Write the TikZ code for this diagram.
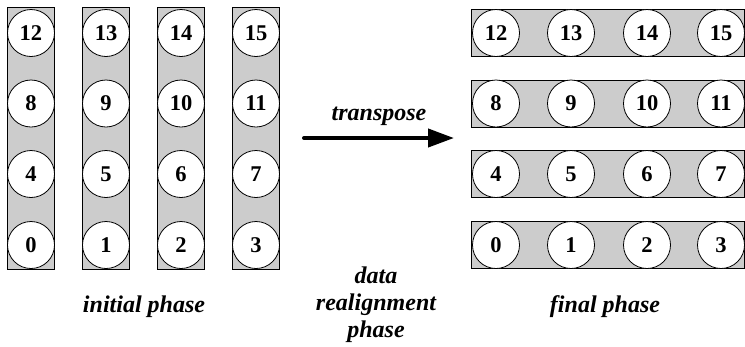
\documentclass[tikz,border=0pt]{standalone}
\usepackage{fontspec}
\setmainfont{Liberation Serif}
\usepackage{tikz}
\usetikzlibrary{arrows.meta}

\tikzset{
  lane/.style={draw, fill=gray!40, line width=0.9pt},
  elem/.style={circle, draw, fill=white, line width=0.8pt, minimum size=47pt,
    inner sep=0pt, font=\fontsize{22.5}{24}\selectfont\bfseries},
  caption/.style={font=\fontsize{24}{27}\selectfont\bfseries\itshape,
    align=center, inner sep=0pt}
}

\begin{document}
\begin{tikzpicture}[x=1pt, y=-1pt]
    \useasboundingbox (0,0) rectangle (745,346);

    % initial phase: one column per lane
    \foreach \c/\x in {0/31, 1/106, 2/181, 3/256} {
      \draw[lane] (\x-23.5, 7.5) rectangle (\x+23.5, 269);
    }
    \foreach \r/\y in {0/245, 1/174, 2/103.5, 3/33} {
      \foreach \c/\x in {0/31, 1/106, 2/181, 3/256} {
        \pgfmathtruncatemacro{\idx}{4*\r+\c}
        \node[elem] (init\idx) at (\x, \y) {\idx};
      }
    }

    % final phase: one row per lane
    \foreach \r/\y in {0/245, 1/174, 2/103.5, 3/33} {
      \draw[lane] (471, \y-23.5) rectangle (744.5, \y+23.5);
      \foreach \c/\x in {0/496, 1/571, 2/647, 3/721} {
        \pgfmathtruncatemacro{\idx}{4*\r+\c}
        \node[elem] (fin\idx) at (\x, \y) {\idx};
      }
    }

    % transpose arrow
    \coordinate (from) at (304, 138);
    \coordinate (to) at (454, 138);
    \draw[line width=4pt, line cap=round, -{Triangle[length=26pt, width=18pt]}]
      (from) -- node[caption, above=10pt] (trans) {transpose} (to);

    % phase labels
    \node[caption, anchor=base] (initlbl) at (144, 312) {initial phase};
    \node[caption, anchor=base] (finlbl) at (605, 312) {final phase};
    \node[caption, anchor=base] (midlbl) at (376, 283) {data};
    \node[caption, anchor=base] (midlbl2) at (376, 310) {realignment};
    \node[caption, anchor=base] (midlbl3) at (376, 337) {phase};
\end{tikzpicture}
\end{document}
